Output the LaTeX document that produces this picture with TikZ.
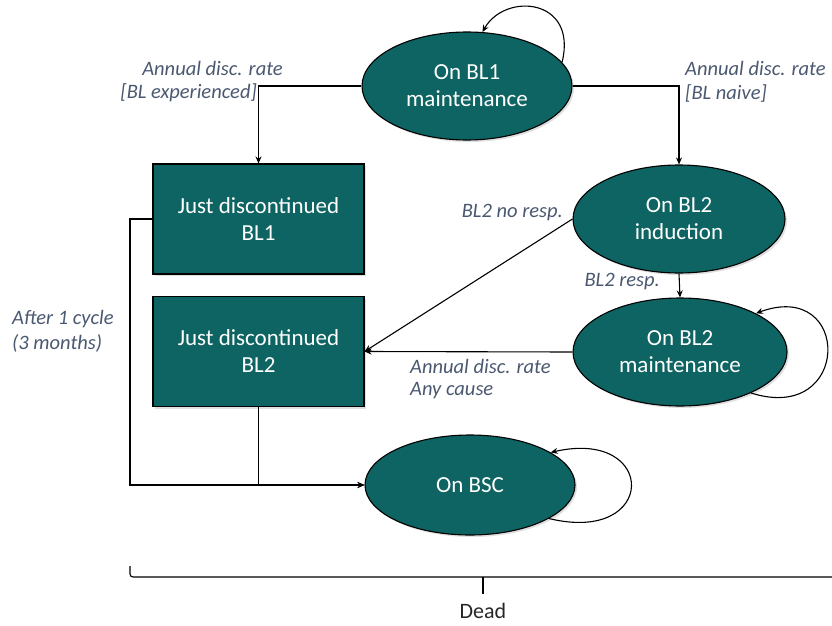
\documentclass[tikz,border=0pt]{standalone}
\usepackage{fontspec}
\setmainfont{Carlito}
\usetikzlibrary{arrows.meta,shapes.geometric,shadows}
\definecolor{teal1}{HTML}{0E6462}
\definecolor{lbl}{HTML}{4A5870}
\begin{document}
\begin{tikzpicture}[x=1pt,y=-1pt,
  st/.style={fill=teal1,draw=black,line width=1.1pt,text=white,align=center,
    font=\fontsize{23}{27}\selectfont,inner sep=0pt,
    drop shadow={opacity=0.25,shadow xshift=2pt,shadow yshift=-2pt}},
  ell/.style={st,ellipse,minimum width=#1,minimum height=108pt},
  box/.style={st,rectangle,minimum width=211pt,minimum height=110pt},
  arr/.style={draw=black,line width=1.1pt,-{Stealth[length=7pt,width=6pt]}},
  lab/.style={text=lbl,font=\fontsize{20.5}{25}\selectfont\itshape,inner sep=0pt}]
\useasboundingbox (0,0) rectangle (832,626);
% states
\node[ell=210pt] (bl1) at (467,86) {On BL1\\maintenance};
\node[ell=212pt] (ind) at (679,219) {On BL2\\induction};
\node[ell=214pt] (bl2m) at (680,352) {On BL2\\maintenance};
\node[ell=210pt,minimum height=100pt] (bsc) at (470,485) {On BSC};
\node[box] (jd1) at (258.5,219) {Just discontinued\\BL1};
\node[box] (jd2) at (258.5,351.5) {Just discontinued\\BL2};
% connectors
\draw[arr] (bl1.west) -| (jd1.north);
\draw[arr] (bl1.east) -| (ind.north);
\draw[arr] (ind.south) -- (bl2m.north);
\draw[arr] (ind.west) -- (jd2.east);
\draw[arr] (bl2m.west) -- (jd2.east);
\coordinate (lft) at (130,219);
\draw[arr] (jd1.west) -- (lft) |- (bsc.west);
\draw[arr] (jd2.south) |- (bsc.west);
% self loops
\draw[arr] (bl1.14) .. controls (578,-2) and (505,-8) .. (bl1.74);
\draw[arr] (bl2m.-30) .. controls (852,425) and (852,278) .. (bl2m.27);
\draw[arr] (bsc.-23) .. controls (658,545) and (658,428) .. (bsc.22);
% labels
\node[lab,anchor=east] (l1a) at (283,68) {Annual disc. rate};
\node[lab,anchor=east] (l1b) at (257,93) {[BL experienced]};
\node[lab,anchor=west] (l2a) at (685,68) {Annual disc. rate};
\node[lab,anchor=west] (l2b) at (685,93) {[BL naive]};
\node[lab,anchor=east] (l3) at (563,213) {BL2 no resp.};
\node[lab,anchor=east] (l4) at (660,282) {BL2 resp.};
\node[lab,anchor=west] (l5a) at (410,366) {Annual disc. rate};
\node[lab,anchor=west] (l5b) at (410,391) {Any cause};
\node[lab,anchor=west] (l6a) at (12,319) {After 1 cycle};
\node[lab,anchor=west] (l6b) at (12,343) {(3 months)};
% dead bracket
\coordinate (bl) at (130,566);
\coordinate (br) at (832,577);
\coordinate (bm) at (483,577);
\coordinate (bt) at (483,594);
\draw[line width=1.1pt,rounded corners=3pt] (bl) -- (130,577) -- (br);
\draw[line width=1.1pt] (bm) -- (bt);
\node[font=\fontsize{22}{26}\selectfont,text=black!85,inner sep=0pt] (dead) at (483,611) {Dead};
\end{tikzpicture}
\end{document}
